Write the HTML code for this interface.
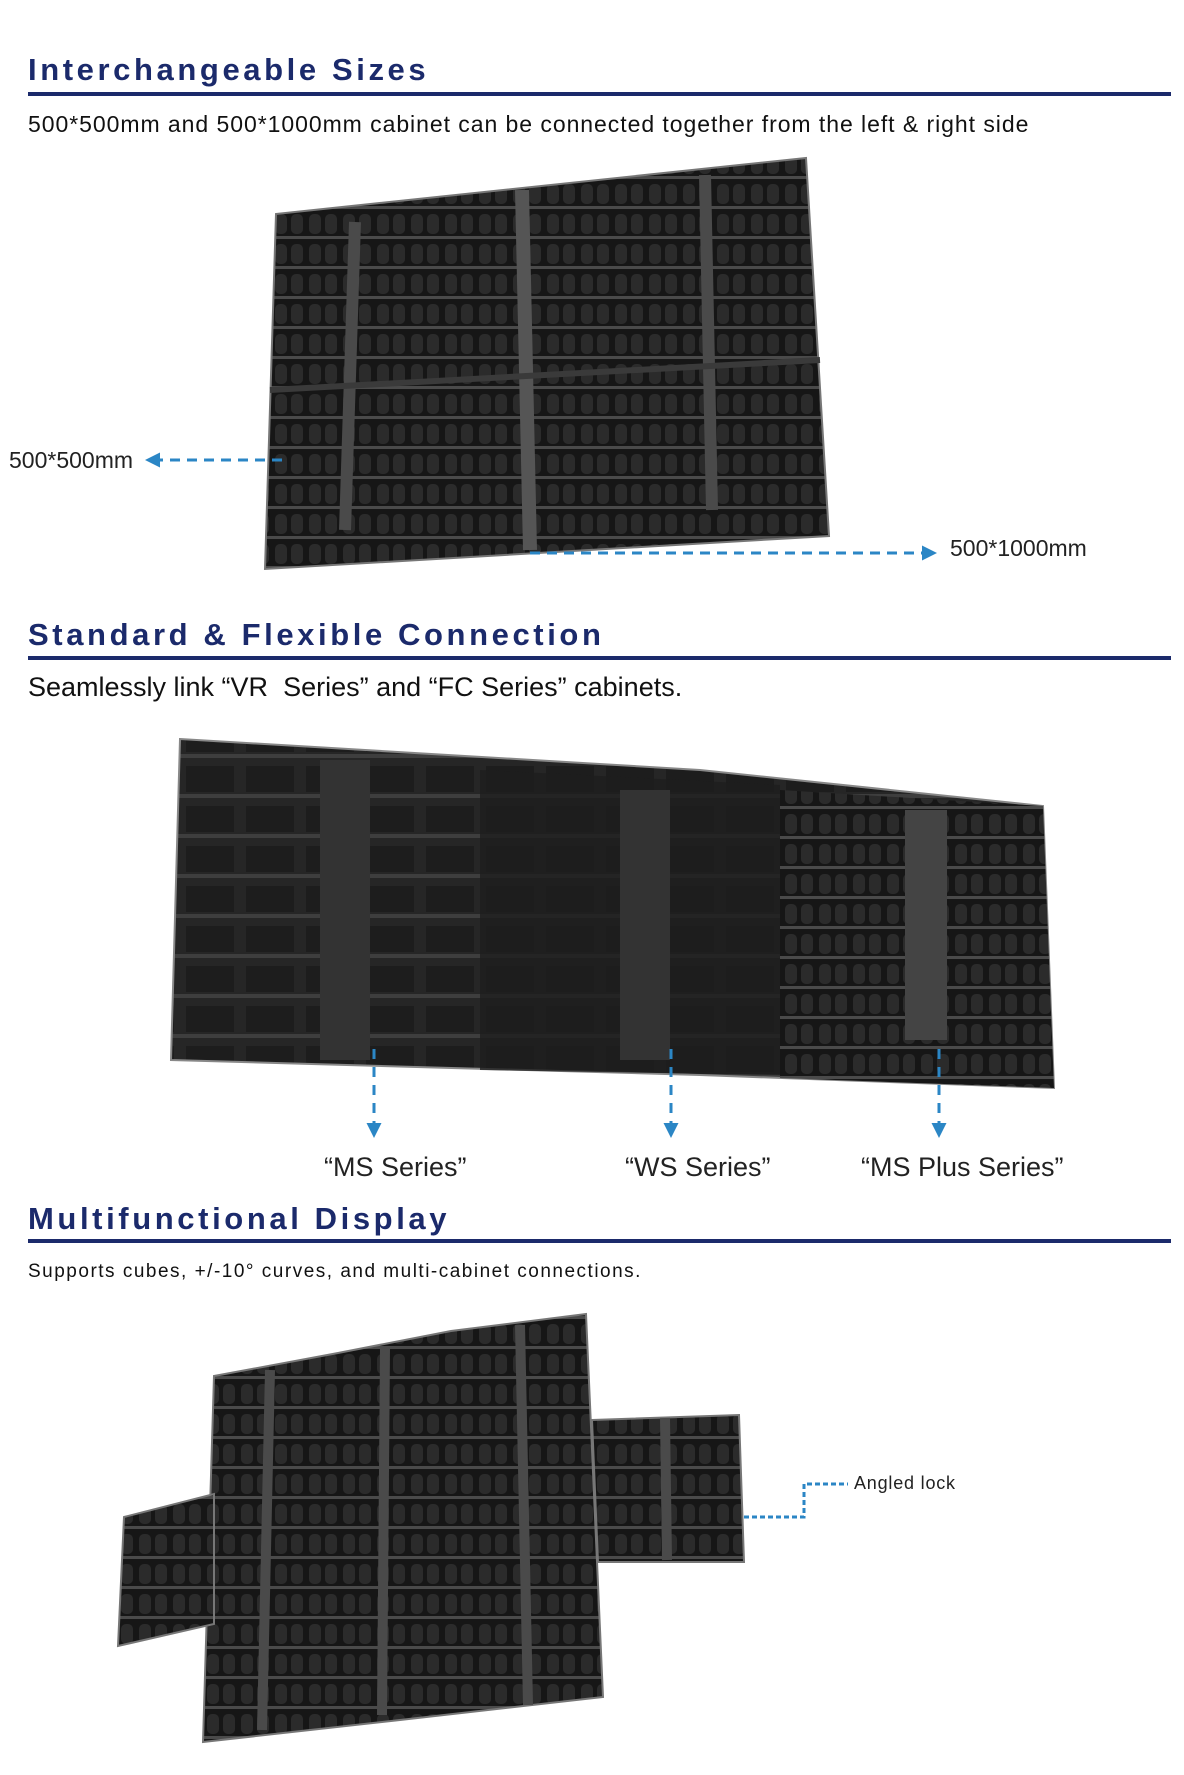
<!DOCTYPE html>
<html><head><meta charset="utf-8"><style>
html,body{margin:0;padding:0;background:#fff;}
body{width:1184px;height:1775px;position:relative;overflow:hidden;font-family:"Liberation Sans",sans-serif;}
.t{position:absolute;left:28px;font-weight:bold;color:#1b2a6b;font-size:31px;letter-spacing:3.6px;line-height:1;}
.r{position:absolute;left:28px;width:1138px;height:4px;background:#1b2a6b;}
.s{position:absolute;left:28px;color:#111;line-height:1;white-space:nowrap;}
.l{position:absolute;color:#222;line-height:1;white-space:nowrap;}
svg{position:absolute;left:0;top:0;}
</style></head><body>
<svg width="1184" height="1775">
<defs>
<pattern id="g" width="34" height="30" patternUnits="userSpaceOnUse">
<rect width="34" height="30" fill="#161616"/>
<rect x="3" y="4" width="12" height="20" rx="5" fill="#2b2b2b"/>
<rect x="19" y="4" width="12" height="20" rx="5" fill="#2b2b2b"/>
<rect x="0" y="26" width="34" height="3" fill="#4a4a4a"/>
</pattern>
<pattern id="g2" width="60" height="40" patternUnits="userSpaceOnUse">
<rect width="60" height="40" fill="#262626"/>
<rect x="6" y="6" width="48" height="26" fill="#1d1d1d"/>
<rect x="0" y="34" width="60" height="4" fill="#3e3e3e"/>
</pattern>
<marker id="ah" viewBox="0 0 10 10" refX="8" refY="5" markerWidth="5" markerHeight="5" orient="auto"><path d="M0,0L10,5L0,10z" fill="#2b86c5"/></marker>
</defs>
<!-- image 1 -->
<polygon points="276,214 806,158 829,536 265,569" fill="url(#g)" stroke="#777" stroke-width="2"/>
<line x1="522" y1="190" x2="530" y2="550" stroke="#555" stroke-width="14"/>
<line x1="355" y1="222" x2="345" y2="530" stroke="#4a4a4a" stroke-width="12"/>
<line x1="705" y1="175" x2="712" y2="510" stroke="#4a4a4a" stroke-width="12"/>
<line x1="270" y1="390" x2="820" y2="360" stroke="#3a3a3a" stroke-width="6"/>
<line x1="282" y1="460" x2="148" y2="460" stroke="#2b86c5" stroke-width="3" stroke-dasharray="10,7" marker-end="url(#ah)"/>
<line x1="530" y1="553" x2="934" y2="553" stroke="#2b86c5" stroke-width="3" stroke-dasharray="10,7" marker-end="url(#ah)"/>
<!-- image 2 -->
<polygon points="180,739 700,770 1043,806 1054,1088 700,1075 171,1060" fill="url(#g2)" stroke="#888" stroke-width="2"/>
<polygon points="480,770 780,785 780,1075 480,1070" fill="#1e1e1e" opacity="0.8"/>
<polygon points="780,790 1043,806 1054,1088 780,1078" fill="url(#g)"/>
<rect x="320" y="760" width="50" height="300" fill="#333"/>
<rect x="620" y="790" width="50" height="270" fill="#333"/>
<rect x="905" y="810" width="42" height="230" fill="#444"/>
<g stroke="#2b86c5" stroke-width="3" stroke-dasharray="10,8">
<line x1="374" y1="1049" x2="374" y2="1135" marker-end="url(#ah)"/>
<line x1="671" y1="1049" x2="671" y2="1135" marker-end="url(#ah)"/>
<line x1="939" y1="1049" x2="939" y2="1135" marker-end="url(#ah)"/>
</g>
<!-- image 3 -->
<polygon points="214,1376 338,1353 451,1331 586,1314 603,1697 400,1720 203,1742" fill="url(#g)" stroke="#777" stroke-width="2"/>
<polygon points="592,1420 739,1415 744,1562 598,1562" fill="url(#g)" stroke="#777" stroke-width="2"/>
<polygon points="124,1517 214,1494 214,1624 118,1646" fill="url(#g)" stroke="#777" stroke-width="2"/>
<line x1="270" y1="1370" x2="262" y2="1730" stroke="#4a4a4a" stroke-width="10"/>
<line x1="385" y1="1348" x2="382" y2="1715" stroke="#4a4a4a" stroke-width="10"/>
<line x1="520" y1="1325" x2="528" y2="1705" stroke="#4a4a4a" stroke-width="10"/>
<line x1="665" y1="1418" x2="667" y2="1560" stroke="#4a4a4a" stroke-width="10"/>
<polyline points="744,1517 804,1517 804,1484 848,1484" fill="none" stroke="#2b86c5" stroke-width="3" stroke-dasharray="5,3"/>
</svg>

<div class="t" style="top:54px;">Interchangeable Sizes</div>
<div class="r" style="top:92px;width:1143px;"></div>
<div class="s" style="top:113px;font-size:23px;letter-spacing:0.95px;">500*500mm and 500*1000mm cabinet can be connected together from the left &amp; right side</div>
<div class="l" style="left:9px;top:449px;font-size:23px;">500*500mm</div>
<div class="l" style="left:950px;top:537px;font-size:23px;">500*1000mm</div>

<div class="t" style="top:619px;">Standard &amp; Flexible Connection</div>
<div class="r" style="top:656px;width:1143px;"></div>
<div class="s" style="top:674px;font-size:27px;">Seamlessly link “VR&nbsp; Series” and “FC Series” cabinets.</div>
<div class="l" style="left:324px;top:1154px;font-size:27px;">“MS Series”</div>
<div class="l" style="left:625px;top:1154px;font-size:27px;">“WS Series”</div>
<div class="l" style="left:861px;top:1154px;font-size:27px;">“MS Plus Series”</div>

<div class="t" style="top:1203px;">Multifunctional Display</div>
<div class="r" style="top:1239px;width:1143px;"></div>
<div class="s" style="top:1262px;font-size:19px;letter-spacing:1.5px;">Supports cubes, +/-10° curves, and multi-cabinet connections.</div>
<div class="l" style="left:854px;top:1474px;font-size:18px;letter-spacing:0.8px;">Angled lock</div>
</body></html>
